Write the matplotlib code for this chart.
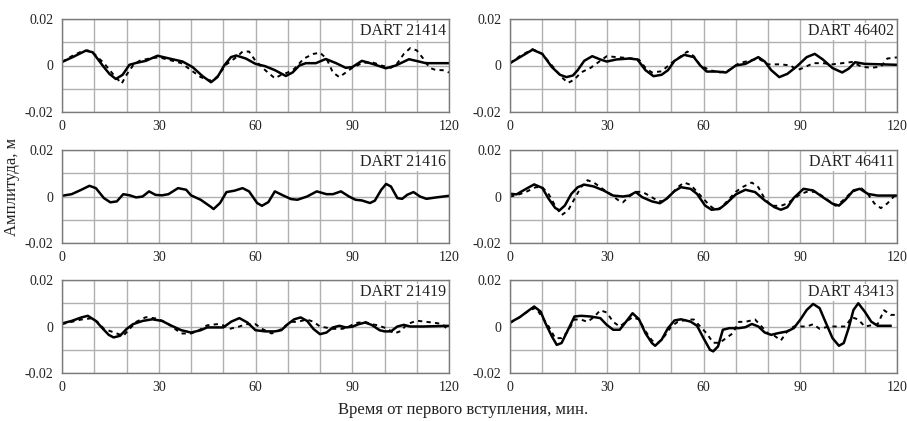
import numpy as np
import matplotlib
matplotlib.use("Agg")
import matplotlib.pyplot as plt

plt.rcParams['font.family'] = ['Liberation Serif', 'DejaVu Serif']

# ---------------- data (time in minutes, amplitude in metres) ----------------
t1s = [0, 3.3, 7.4, 9.5, 12.6, 14.7, 16.7, 18.8, 20.9, 23, 26, 29.6, 33.3, 37.4, 40.5, 43.6, 46.2, 48.2,
       50.3, 52.4, 54, 57, 60, 63, 66, 69.4, 71.5, 73.6, 75.6, 78.7, 81.8, 85, 88, 90, 93, 96.3, 100.4,
       103.5, 107.6, 110.7, 112.8, 120]
v1s = [0.0015, 0.0036, 0.0064, 0.0057, 0.0, -0.0036, -0.0058, -0.004, 0.0003, 0.0011, 0.002, 0.0042,
       0.003, 0.0017, -0.0007, -0.0046, -0.0072, -0.005, 0.0, 0.0036, 0.0043, 0.003, 0.0007, -0.0003,
       -0.002, -0.0045, -0.003, 0.0, 0.001, 0.001, 0.0028, 0.001, -0.001, -0.0007, 0.002, 0.0007, -0.0012,
       0.0, 0.0027, 0.0017, 0.001, 0.001]
t1d = [0, 3, 6, 8, 10, 13, 16, 18.5, 20, 22, 24, 27, 30, 33, 37, 40, 43, 46, 48, 51, 54, 56, 58, 60, 63,
       66, 68, 70, 72, 75, 78, 80, 82, 84, 86, 88, 90, 93, 96, 99, 102, 104, 106, 108, 110, 112, 114, 116,
       118, 120]
v1d = [0.0015, 0.004, 0.006, 0.0065, 0.005, 0.001, -0.004, -0.0078, -0.004, 0.0, 0.002, 0.003, 0.0035,
       0.0025, 0.001, -0.002, -0.005, -0.0065, -0.005, 0.0005, 0.0035, 0.006, 0.006, 0.002, -0.002,
       -0.0055, -0.004, -0.003, -0.0015, 0.003, 0.005, 0.0055, 0.003, -0.003, -0.005, -0.003, -0.001,
       0.001, 0.0015, 0.0, -0.001, 0.001, 0.005, 0.0075, 0.0065, 0.003, -0.001, -0.002, -0.002, -0.003]

t2s = [0, 3, 7, 10, 13, 15.5, 17.5, 19.5, 21, 23, 25.5, 28, 30, 33, 37, 39.5, 42, 44.5, 47, 49, 51, 54,
       57, 59, 61, 64, 67, 70, 73, 77, 79, 81, 83.5, 86, 89, 92, 94.5, 97, 100, 103, 105, 107, 110, 120]
v2s = [0.001, 0.0035, 0.0068, 0.005, -0.0007, -0.004, -0.005, -0.0043, -0.002, 0.002, 0.004, 0.0026,
       0.0017, 0.0026, 0.003, 0.0026, -0.002, -0.0046, -0.004, -0.002, 0.002, 0.0046, 0.0036, 0.0,
       -0.0026, -0.0026, -0.003, 0.0, 0.0007, 0.0036, 0.0017, -0.002, -0.005, -0.0036, -0.0003, 0.0036,
       0.005, 0.0026, -0.0011, -0.003, -0.0014, 0.0014, 0.0007, 0.0003]
t2d = [0, 3, 7, 10, 13, 16, 18, 20, 22, 25, 28, 30, 34, 38, 40, 42, 44, 47, 50, 53, 55, 57, 59, 62, 65,
       68, 71, 74, 77, 80, 84, 87, 89, 91, 94, 97, 100, 103, 106, 109, 112, 115, 117, 120]
v2d = [0.001, 0.004, 0.007, 0.005, 0.0, -0.005, -0.0075, -0.006, -0.003, -0.001, 0.002, 0.004, 0.0035,
       0.003, 0.0025, -0.001, -0.003, -0.0025, 0.001, 0.004, 0.006, 0.004, 0.0, -0.002, -0.003, -0.002,
       0.001, 0.002, 0.003, 0.0005, 0.0005, 0.0, -0.002, -0.001, 0.001, 0.001, 0.0005, 0.001, 0.0015,
       -0.0005, -0.001, -0.0005, 0.003, 0.0035]

t3s = [0, 3, 6, 8.5, 10.5, 13, 15, 17, 19, 21, 23, 25, 27, 29, 31, 33, 36, 38.5, 40, 43, 46, 47, 49, 51,
       53.5, 56, 58, 60.5, 62, 64, 66, 68.5, 71, 73, 76, 79, 82, 84, 86.5, 89, 91, 93, 95.5, 97, 99, 100.5,
       102, 104, 105.5, 107, 109, 111, 113, 116, 120]
v3s = [0.0003, 0.001, 0.0029, 0.0046, 0.0036, -0.0007, -0.0025, -0.0021, 0.001, 0.0005, -0.0004, 0.0,
       0.0022, 0.0007, 0.0005, 0.001, 0.0036, 0.0029, 0.0005, -0.0014, -0.0043, -0.0054, -0.0028, 0.0019,
       0.0025, 0.0036, 0.0022, -0.0028, -0.004, -0.0024, 0.0022, 0.0005, -0.0011, -0.0014, 0.0, 0.0022,
       0.001, 0.001, 0.0022, 0.0, -0.0014, -0.0017, -0.0028, -0.0018, 0.0029, 0.0054, 0.0043, -0.0007,
       -0.001, 0.0007, 0.0019, 0.0, -0.001, -0.0004, 0.0003]

t4s = [0, 2, 5, 7.5, 10, 12, 14, 15.3, 17, 19, 21, 23, 26, 29, 32, 35, 37, 39, 41, 44, 46.5, 48.5, 51, 53,
       56, 58, 60.5, 62.5, 65, 67, 70, 73, 76, 79, 82, 84, 86, 88, 91, 94, 97, 100, 102, 104, 106.5, 108.5,
       111, 114, 120]
v4s = [0.0012, 0.0009, 0.0033, 0.0052, 0.0037, -0.001, -0.0049, -0.006, -0.0039, 0.0011, 0.004, 0.0051,
       0.0043, 0.0026, 0.0004, 0.0, 0.0004, 0.0019, -0.0003, -0.0021, -0.0029, -0.001, 0.0023, 0.004,
       0.0033, 0.0011, -0.0039, -0.0057, -0.0053, -0.0031, 0.0009, 0.0029, 0.0019, -0.0017, -0.0046,
       -0.0057, -0.0046, -0.0006, 0.0033, 0.0026, -0.0003, -0.0031, -0.0039, -0.0014, 0.0026, 0.0033,
       0.0011, 0.0004, 0.0004]
t4d = [0, 2, 5, 8, 10, 12, 14, 16, 18, 20, 22, 24, 26, 28, 30, 32, 34, 35, 37, 39, 41, 43, 46, 48, 50, 52,
       54, 56, 58, 60, 62, 64, 66, 68, 70, 72, 75, 77, 79, 81, 84, 86, 88, 90, 92, 95, 97, 99, 101, 103,
       106, 109, 111, 113, 115, 117, 119, 120]
v4d = [0.0, 0.0005, 0.002, 0.004, 0.004, 0.001, -0.004, -0.008, -0.006, -0.001, 0.004, 0.007, 0.006,
       0.004, 0.002, 0.0, -0.002, -0.0025, 0.0, 0.002, 0.002, 0.0005, -0.002, -0.002, 0.001, 0.004, 0.006,
       0.005, 0.002, -0.001, -0.004, -0.006, -0.004, -0.001, 0.002, 0.004, 0.006, 0.004, -0.001, -0.004,
       -0.004, -0.003, -0.001, 0.001, 0.002, 0.002, 0.0, -0.002, -0.004, -0.002, 0.002, 0.0035, 0.001,
       -0.003, -0.005, -0.003, 0.0, 0.0005]

t5s = [0, 3, 6, 8, 10.5, 12.5, 14.5, 16, 18, 20, 22, 25, 28, 31, 34, 37, 40, 43, 45, 48, 50, 52.5, 55,
       57.5, 60, 63, 66, 68, 70, 72, 74, 76, 78, 80, 82, 84, 86, 88, 90, 92, 94, 96, 98.5, 100, 102, 104,
       106, 108, 112, 120]
v5s = [0.0013, 0.0024, 0.0039, 0.0046, 0.0024, -0.0007, -0.0036, -0.0047, -0.004, -0.0011, 0.001,
       0.0024, 0.0031, 0.0024, 0.0003, -0.0016, -0.0026, -0.0016, -0.0004, -0.0004, -0.0004, 0.0021,
       0.0036, 0.0017, -0.0016, -0.0021, -0.0021, -0.0016, 0.001, 0.0031, 0.0039, 0.0024, -0.0011,
       -0.0033, -0.0026, -0.0004, 0.0003, -0.0004, -0.0001, 0.001, 0.0017, 0.0007, -0.0016, -0.0021,
       -0.0021, 0.0, 0.0007, 0.0, 0.0, 0.0003]
t5d = [0, 3, 6, 9, 11, 13, 15, 17, 19, 21, 23, 26, 29, 32, 35, 37, 40, 42, 45, 48, 50, 52, 55, 57, 60,
       62, 65, 67, 69, 71, 73, 76, 78, 80, 82, 84, 87, 89, 91, 94, 96, 98, 101, 103, 105, 107, 110, 113,
       116, 118, 120]
v5d = [0.001, 0.002, 0.003, 0.0035, 0.002, -0.001, -0.002, -0.003, -0.004, -0.001, 0.002, 0.004, 0.0035,
       0.002, -0.001, -0.003, -0.003, -0.002, 0.0005, 0.001, 0.0005, -0.001, 0.0, 0.001, 0.001, -0.001,
       -0.003, -0.002, 0.0, 0.002, 0.002, 0.003, 0.002, 0.0, -0.0005, -0.001, -0.001, 0.0, 0.0015, 0.002,
       0.001, 0.0005, -0.001, -0.003, -0.002, 0.001, 0.0025, 0.002, 0.0015, 0.001, -0.002]

t6s = [0, 3, 6, 7.5, 9.5, 11, 13, 14.5, 16, 18, 20, 22, 25, 28, 30, 32, 34, 36, 38, 40, 42, 44, 45, 47,
       49, 51, 53, 56, 58, 60, 62, 63, 64.5, 66, 68, 71, 73, 75, 77, 79, 81, 83, 86, 88, 90, 92, 94, 96,
       98, 100, 102, 103.5, 105, 106.5, 108, 110, 112, 114, 118]
v6s = [0.0017, 0.004, 0.0071, 0.0086, 0.0064, 0.0014, -0.0043, -0.0079, -0.0071, -0.0014, 0.0043,
       0.0046, 0.0043, 0.0036, 0.0007, -0.0014, -0.0014, 0.0021, 0.0057, 0.0031, -0.0029, -0.0071,
       -0.0083, -0.0057, -0.0007, 0.0026, 0.0031, 0.0021, 0.0003, -0.005, -0.01, -0.0107, -0.0086,
       -0.0014, -0.0007, -0.0007, -0.0003, 0.0011, 0.0, -0.0026, -0.0036, -0.0029, -0.0021, -0.0007,
       0.0029, 0.0071, 0.0097, 0.0079, 0.0014, -0.005, -0.0083, -0.0071, -0.0007, 0.0071, 0.01, 0.0064,
       0.0021, 0.0003, 0.0003]
t6d = [0, 3, 6, 8, 10, 12, 14, 16, 18, 20, 22, 24, 26, 28, 30, 32, 34, 36, 38, 40, 42, 44, 46, 48, 50, 52,
       55, 57, 59, 61, 63, 65, 67, 69, 71, 73, 76, 78, 80, 82, 84, 86, 88, 90, 92, 94, 96, 99, 102, 104,
       106, 108, 110, 112, 114, 116, 118, 120]
v6d = [0.0015, 0.004, 0.007, 0.008, 0.004, 0.0, -0.005, -0.005, -0.002, 0.003, 0.003, 0.002, 0.004,
       0.007, 0.006, 0.002, 0.0, 0.002, 0.004, 0.003, -0.002, -0.006, -0.007, -0.004, 0.0, 0.002, 0.003,
       0.003, 0.0, -0.003, -0.007, -0.007, -0.005, -0.003, 0.002, 0.002, 0.003, 0.0, -0.003, -0.004,
       -0.006, -0.002, 0.0, 0.0, 0.0, 0.001, -0.001, 0.0, 0.0, 0.0, 0.004, 0.003, 0.0, 0.0005, 0.001,
       0.007, 0.005, 0.005]

station_labels = ["DART 21414", "DART 46402", "DART 21416", "DART 46411", "DART 21419", "DART 43413"]
panels = [(t1s, v1s, t1d, v1d), (t2s, v2s, t2d, v2d), (t3s, v3s, None, None),
          (t4s, v4s, t4d, v4d), (t5s, v5s, t5d, v5d), (t6s, v6s, t6d, v6d)]

xticks = [0, 30, 60, 90, 120]
yticks = [-0.02, 0, 0.02]
ytick_labels = ["-0.02", "0", "0.02"]

# ---------------- figure ----------------
fig = plt.figure(figsize=(9.07, 4.21), dpi=100)
lefts = [62 / 907, 510 / 907]
width = 387 / 907
tops = [19, 150, 280]
height = 93 / 421

for i, (lab, (ts, vs, td, vd)) in enumerate(zip(station_labels, panels)):
    r, c = divmod(i, 2)
    bottom = 1 - (tops[r] + 93) / 421
    ax = fig.add_axes([lefts[c], bottom, width, height])
    ax.set_xlim(0, 120)
    ax.set_ylim(-0.02, 0.02)
    grid_x = np.arange(0, 121, 10)
    grid_y = np.arange(-0.02, 0.0201, 0.01)
    ax.set_xticks(grid_x)
    ax.set_yticks(grid_y)
    ax.grid(True, color='#b0b0b0', linewidth=1.0)
    ax.set_axisbelow(True)
    ax.set_xticklabels([str(int(v)) if int(v) in xticks else "" for v in grid_x])
    ax.set_yticklabels([ytick_labels[yticks.index(round(v, 2))] if round(v, 2) in yticks else ""
                        for v in grid_y])
    ax.tick_params(length=0, labelsize=10, pad=6, colors='#222222')
    for s in ax.spines.values():
        s.set_color('#7a7a7a')
        s.set_linewidth(1.0)
    if td is not None:
        ax.plot(td, vd, color='black', linewidth=1.4, linestyle=(0, (2.2, 2.2)))
    ax.plot(ts, vs, color='black', linewidth=1.8)
    ax.text(0.992, 0.955, lab, transform=ax.transAxes, ha='right', va='top', fontsize=11.5,
            color='#222222', bbox=dict(facecolor='white', edgecolor='none', pad=0.5))

fig.text(12 / 907, 1 - 187 / 421, "Амплитуда, м", rotation=90, ha='center', va='center',
         fontsize=12, color='#222222')
fig.text(463 / 907, 1 - 410 / 421, "Время от первого вступления, мин.", ha='center', va='center',
         fontsize=12, color='#222222')

fig.savefig("out.png", dpi=100)
